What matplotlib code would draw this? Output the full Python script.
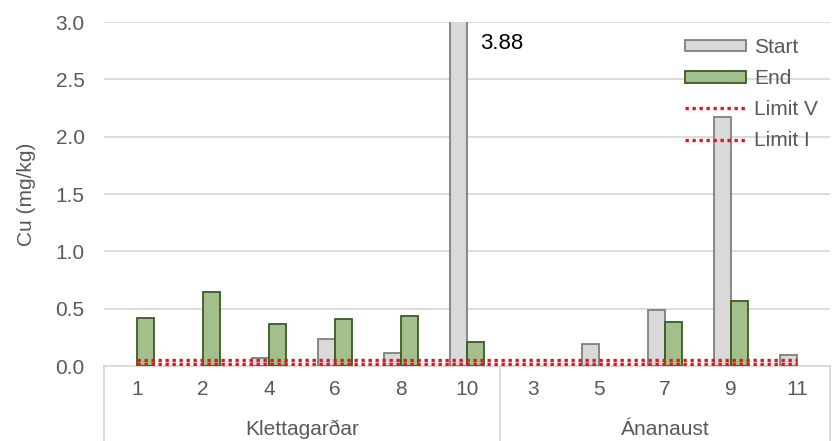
import numpy as np
import matplotlib.pyplot as plt
from matplotlib.lines import Line2D

plt.rcParams["font.family"] = ["Liberation Sans", "DejaVu Sans"]

# Sample sites grouped by location
sites = ["1", "2", "4", "6", "8", "10", "3", "5", "7", "9", "11"]
groups = ["Klettagarðar", "Ánanaust"]
group_sizes = [6, 5]

# Cu concentration (mg/kg), nan = no bar
start_vals = [np.nan, np.nan, 0.07, 0.235, 0.115, 3.88, np.nan, 0.19, 0.49, 2.17, 0.095]
end_vals = [0.42, 0.65, 0.37, 0.41, 0.44, 0.21, np.nan, np.nan, 0.38, 0.57, np.nan]
limit_v = [0.056] * len(sites)
limit_i = [0.014] * len(sites)

gray_txt = "#595959"
fs = 15
x = np.arange(len(sites))
w = 0.255

fig = plt.figure(figsize=(8.34, 4.41), dpi=100)
ax = fig.add_axes([0.1247, 0.170, 0.8703, 0.780])

h_start = ax.bar(x - w / 2, start_vals, width=w, color="#d9d9d9",
                 edgecolor="#7f7f7f", linewidth=1.3, label="Start", zorder=3)
h_end = ax.bar(x + w / 2, end_vals, width=w, color="#a3bf8c",
               edgecolor="#3a5a24", linewidth=1.3, label="End", zorder=3)
h_v, = ax.plot(x, limit_v, color="#e8141c", linestyle=(0, (1, 1.1)), linewidth=2.4,
               label="Limit V", zorder=4)
h_i, = ax.plot(x, limit_i, color="#e8141c", linestyle=(0, (1, 1.1)), linewidth=2.4,
               label="Limit I", zorder=4)

# value of the clipped bar
ax.text(5.2, 2.81, "3.88", fontsize=16, color="black", va="center")

ax.set_xlim(-0.5, len(sites) - 0.5)
ax.set_ylim(0, 3.0)
yt = np.arange(0, 3.01, 0.5)
ax.set_yticks(yt)
ax.set_yticklabels([f"{v:.1f}" for v in yt])
ax.set_xticks(x)
ax.set_xticklabels(sites)
ax.tick_params(axis="both", length=0, labelsize=fs, labelcolor=gray_txt)
ax.tick_params(axis="x", pad=10)
ax.tick_params(axis="y", pad=14)
ax.grid(axis="y", color="#d9d9d9", linewidth=1.3, zorder=0)
ax.set_axisbelow(True)
for s in ["top", "right", "left"]:
    ax.spines[s].set_visible(False)
ax.spines["bottom"].set_color("#d9d9d9")
ax.spines["bottom"].set_linewidth(1.3)

ax.set_ylabel("Cu (mg/kg)", fontsize=fs, color=gray_txt, labelpad=14)

# group axis below the category labels
trans = ax.get_xaxis_transform()
bounds = [-0.5]
for n in group_sizes:
    bounds.append(bounds[-1] + n)
for b in bounds:
    ax.add_line(Line2D([b, b], [0, -0.25], transform=trans, color="#d9d9d9",
                       linewidth=1.3, clip_on=False))
for g, lo, hi in zip(groups, bounds[:-1], bounds[1:]):
    ax.text((lo + hi) / 2, -0.185, g, transform=trans, ha="center", va="center",
            fontsize=fs, color=gray_txt)

leg = ax.legend([h_start, h_end, h_v, h_i], ["Start", "End", "Limit V", "Limit I"],
                loc="upper right", bbox_to_anchor=(0.995, 0.978), frameon=False,
                fontsize=fs, handlelength=2.9, handleheight=0.5,
                labelspacing=0.58, handletextpad=0.4, borderaxespad=0)
for t in leg.get_texts():
    t.set_color(gray_txt)

fig.savefig("out.png", dpi=100)
